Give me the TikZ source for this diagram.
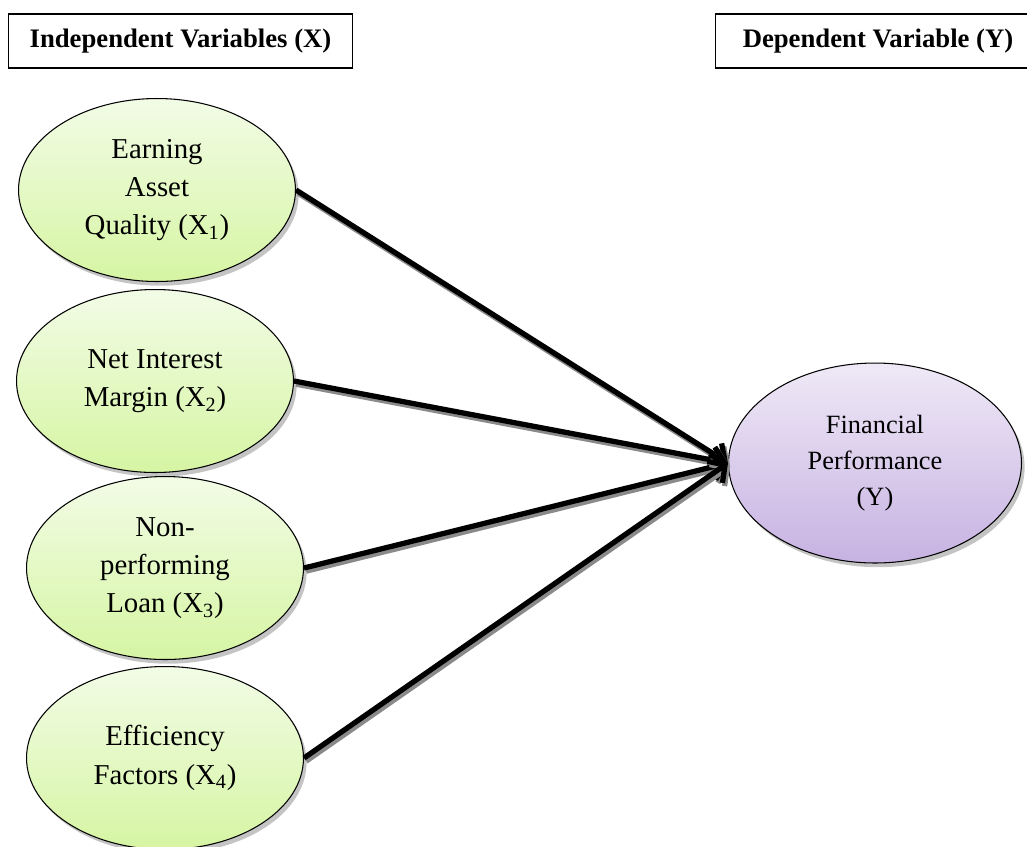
\documentclass[tikz,border=0pt]{standalone}
\usepackage{fontspec}
\setmainfont{Liberation Serif}
\usepackage{xcolor}
\definecolor{ivgreentop}{HTML}{F2FCE6}
\definecolor{ivgreenbot}{HTML}{D6F5A3}
\definecolor{dvpurpletop}{HTML}{EFE9F6}
\definecolor{dvpurplebot}{HTML}{C7B2E2}
\definecolor{shadowgrey}{HTML}{8A8A8A}
\usepackage{tikz}
\usetikzlibrary{
  arrows.meta,
  positioning,
  shapes.geometric,
  shadows,
}

\begin{document}
\begin{tikzpicture}[
  x=0.02cm, y=-0.02cm,
  header/.style={
    draw=black, line width=0.6pt, minimum height=1.08cm,
    font=\fontsize{15.2}{18}\selectfont\bfseries, align=center,
  },
  indep/.style={
    ellipse, draw=black, line width=0.6pt, inner sep=0pt,
    minimum width=5.54cm, minimum height=3.66cm,
    top color=ivgreentop, bottom color=ivgreenbot,
    drop shadow={shadow xshift=1.8pt, shadow yshift=-2.4pt, fill=shadowgrey},
    font=\fontsize{16.4}{21.8}\selectfont, align=center,
  },
  dep/.style={
    ellipse, draw=black, line width=0.6pt, inner sep=0pt,
    minimum width=5.86cm, minimum height=4cm,
    top color=dvpurpletop, bottom color=dvpurplebot,
    drop shadow={shadow xshift=1.8pt, shadow yshift=-2.4pt, fill=shadowgrey},
    font=\fontsize{15}{20.5}\selectfont, align=center,
  },
  link/.style={
    line width=3pt, -{Straight Barb[length=7pt,width=15pt]},
    preaction={draw=shadowgrey, line width=3pt,
      transform canvas={xshift=1.2pt,yshift=-1.8pt}},
  },
]
  \useasboundingbox (0,0) rectangle (1027,846);

  % Headers
  \node[header, minimum width=6.9cm] (indephead) at (180.5,41)
    {Independent Variables (X)};
  \node[header, minimum width=6.52cm] (dephead) at (878,41)
    {Dependent Variable (Y)};

  % Independent variables
  \node[indep] (eaq) at (157,190) {Earning\\Asset\\Quality (X\textsubscript{1})};
  \node[indep] (nim) at (155,381) {Net Interest\\Margin (X\textsubscript{2})};
  \node[indep] (npl) at (165,568) {Non-\\performing\\Loan (X\textsubscript{3})};
  \node[indep] (eff) at (165,758) {Efficiency\\Factors (X\textsubscript{4})};

  % Dependent variable
  \node[dep] (perf) at (875,463) {Financial\\Performance\\(Y)};

  % Links
  \draw[link] (eaq.east) -- (perf.west);
  \draw[link] (nim.east) -- (perf.west);
  \draw[link] (npl.east) -- (perf.west);
  \draw[link] (eff.east) -- (perf.west);
\end{tikzpicture}
\end{document}
